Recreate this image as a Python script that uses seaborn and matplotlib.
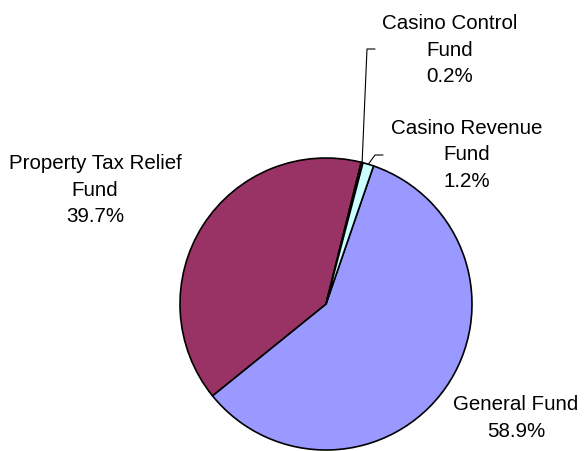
import numpy as np
import matplotlib
matplotlib.use("Agg")
import matplotlib.pyplot as plt
import seaborn as sns

# fund shares (%)
funds = ["General Fund", "Property Tax Relief\nFund", "Casino Control\nFund", "Casino Revenue\nFund"]
shares = [58.9, 39.7, 0.2, 1.2]
colors = ["#9999FF", "#993366", "#FFFFCC", "#CCFFFF"]

sns.set_theme(style="white")
plt.rcParams["font.family"] = ["Liberation Sans", "DejaVu Sans"]

W, H, DPI = 585, 452, 100
CX, CY, R = 326, 305, 146  # pie centre / radius in pixels


def px(x, y):
    """pixel position -> data coords (pie radius = 1)"""
    return (x - CX) / R, (CY - y) / R


fig = plt.figure(figsize=(W / DPI, H / DPI), dpi=DPI)
ax = fig.add_axes([0, 0, 1, 1])

wedges, _ = ax.pie(
    shares,
    colors=colors,
    startangle=71,
    counterclock=False,
    radius=1.0,
    wedgeprops=dict(edgecolor="black", linewidth=1.2),
)

x0, y0 = px(0, H)
x1, y1 = px(W, 0)
ax.set_xlim(x0, x1)
ax.set_ylim(y0, y1)
ax.set_aspect("equal")
ax.axis("off")

# label text positions (pixels) and leader elbows
label_pos = {
    0: (516, 418),
    1: (95, 190),
    2: (450, 50),
    3: (467, 155),
}
elbows = {
    2: [(367, 50), (375, 50)],
    3: [(375, 156), (383, 156)],
}

for i, w in enumerate(wedges):
    txt = f"{funds[i]}\n{shares[i]:.1f}%"
    tx, ty = px(*label_pos[i])
    ax.text(tx, ty, txt, ha="center", va="center", fontsize=14.8,
            linespacing=1.52, color="black")
    if i in elbows:
        mid = np.deg2rad((w.theta1 + w.theta2) / 2)
        pts = [(np.cos(mid), np.sin(mid))] + [px(*p) for p in elbows[i]]
        xs, ys = zip(*pts)
        ax.plot(xs, ys, color="black", linewidth=0.8)

fig.savefig("out.png", dpi=DPI, facecolor="white")
